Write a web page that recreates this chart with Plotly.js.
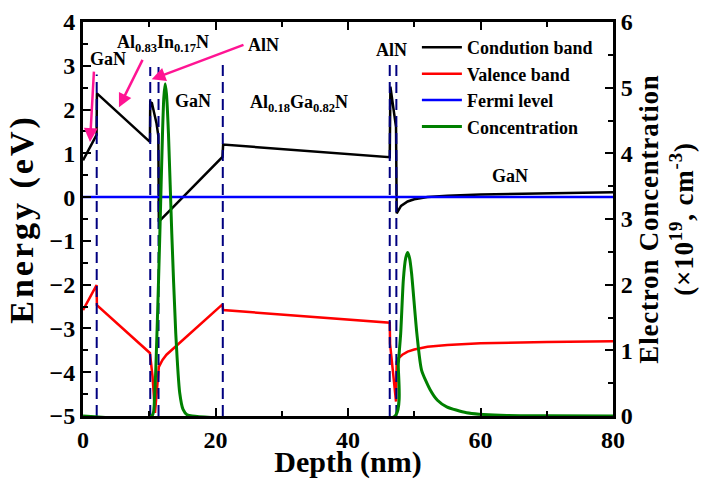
<!DOCTYPE html>
<html>
<head>
<meta charset="utf-8">
<script src="https://cdn.plot.ly/plotly-3.0.1.min.js"></script>
<style>
html,body{margin:0;padding:0;background:#fff;}
#chart{width:708px;height:479px;}
#chart .g-ytitle text{letter-spacing:3px;}
#chart .g-y2title text{letter-spacing:0.8px;}
</style>
</head>
<body>
<div id="chart"></div>
<script>
// Conduction band
const cbDepth  = [0, 2.05, 2.1, 10.1, 10.15, 10.4, 11.1, 11.37, 11.45, 21.05, 21.15, 46.3, 46.4, 47.25, 47.35, 48, 49, 50, 52, 55, 60, 70, 80];
const cbEnergy = [0.84, 1.42, 2.37, 1.26, 2.17, 2.15, 1.68, 1.40, -0.56, 0.92, 1.20, 0.91, 2.52, 1.60, -0.37, -0.20, -0.10, -0.05, 0.0, 0.03, 0.06, 0.09, 0.11];
// Valence band
const vbDepth  = [0, 2.05, 2.1, 10.1, 10.5, 10.87, 11.45, 12.0, 12.6, 21.05, 21.15, 46.3, 46.35, 47.25, 47.35, 47.6, 48.2, 49, 50, 52, 55, 60, 70, 80];
const vbEnergy = [-2.58, -2.01, -2.47, -3.56, -4.10, -4.93, -3.88, -3.72, -3.60, -2.45, -2.58, -2.87, -3.35, -4.67, -3.76, -3.68, -3.60, -3.53, -3.48, -3.42, -3.38, -3.34, -3.31, -3.29];
// Fermi level
const efDepth  = [0, 80];
const efEnergy = [0, 0];
// Electron concentration (x10^19 cm^-3)
const concDepth = [0, 10.4, 10.8, 11.0, 11.3, 11.6, 12.0, 12.2, 12.4, 12.6, 12.9, 13.4, 14.0, 14.6, 15.1, 15.7, 16.5,
                   47.1, 47.6, 47.95, 48.35, 48.7, 49.0, 49.3, 49.6, 50.4, 51.1, 52.4, 53.5, 54.9, 57.9, 63, 70, 80];
const conc      = [0, 0, 0.3, 0.75, 1.7, 2.78, 4.3, 4.85, 5.06, 4.9, 4.3, 2.78, 1.26, 0.35, 0.1, 0.02, 0,
                   0, 0.8, 1.25, 2.07, 2.4, 2.49, 2.4, 2.17, 1.25, 0.70, 0.40, 0.24, 0.14, 0.05, 0.01, 0.003, 0];
// Layer interfaces (dashed lines)
const interfaces   = [2.07, 10.15, 11.4, 21.1, 46.3, 47.3];
const interfaceTop = [2.8, 2.97, 2.97, 3.05, 3.05, 3.05];
const axisBottom = -5;

// Layer labels
const labelText = ['GaN', 'Al<sub>0.83</sub>In<sub>0.17</sub>N', 'AlN', 'GaN', 'Al<sub>0.18</sub>Ga<sub>0.82</sub>N', 'AlN', 'GaN'];
const labelX    = [3.7, 12.1, 27.3, 16.6, 32.6, 46.5, 64.5];
const labelY    = [3.15, 3.5, 3.47, 2.19, 2.14, 3.36, 0.48];
// Pointer arrows: tail -> head
const arrowTailX = [1.66, 9.1, 24.45];
const arrowTailY = [2.90, 3.17, 3.49];
const arrowHeadX = [1.06, 5.43, 10.37];
const arrowHeadY = [1.26, 2.05, 2.69];

const FONT = 'Liberation Serif, Times New Roman, serif';

const dashX = [], dashY = [];
interfaces.forEach((d, i) => { dashX.push(d, d, null); dashY.push(axisBottom, interfaceTop[i], null); });

const traces = [
  {x: cbDepth, y: cbEnergy, name: 'Condution band', mode: 'lines', line: {color: '#000000', width: 2.5}},
  {x: vbDepth, y: vbEnergy, name: 'Valence band', mode: 'lines', line: {color: '#ff0000', width: 2.5}},
  {x: efDepth, y: efEnergy, name: 'Fermi level', mode: 'lines', line: {color: '#0000ff', width: 2.5}},
  {x: concDepth, y: conc, name: 'Concentration', mode: 'lines', yaxis: 'y2',
   line: {color: '#008000', width: 3, shape: 'spline', smoothing: 0.6}},
  {x: dashX, y: dashY, mode: 'lines', showlegend: false, hoverinfo: 'skip',
   line: {color: '#000080', width: 2, dash: '11px,6px'}}
];

const annotations = [];
labelText.forEach((t, i) => annotations.push({
  x: labelX[i], y: labelY[i], xref: 'x', yref: 'y', text: t, showarrow: false,
  font: {family: FONT, size: 18, color: '#000', weight: 'bold'}
}));
arrowHeadX.forEach((hx, i) => annotations.push({
  x: hx, y: arrowHeadY[i], ax: arrowTailX[i], ay: arrowTailY[i], axref: 'x', ayref: 'y',
  xref: 'x', yref: 'y', text: '', showarrow: true, arrowhead: 2, arrowsize: 1.1, arrowwidth: 2.5,
  arrowcolor: '#ff1493', standoff: 0, startstandoff: 0
}));

const axisCommon = {
  showline: true, linecolor: '#000', linewidth: 3, ticks: 'inside', tickwidth: 2, ticklen: 8,
  tickcolor: '#000', showgrid: false, zeroline: false,
  tickfont: {family: FONT, size: 24, color: '#000', weight: 'bold'}
};

const layout = {
  width: 708, height: 479,
  margin: {l: 83, r: 95, t: 22, b: 63},
  paper_bgcolor: '#fff', plot_bgcolor: '#fff',
  font: {family: FONT, color: '#000', weight: 'bold'},
  showlegend: true,
  legend: {x: 0.63, y: 0.982, xanchor: 'left', yanchor: 'top', bgcolor: 'rgba(0,0,0,0)',
           font: {family: FONT, size: 18, color: '#000', weight: 'bold'}, tracegroupgap: 0, itemwidth: 40},
  xaxis: Object.assign({}, axisCommon, {
    range: [0, 80], dtick: 20, mirror: 'ticks',
    minor: {dtick: 10, ticks: 'inside', ticklen: 5, tickwidth: 2, tickcolor: '#000'},
    title: {text: 'Depth (nm)', standoff: 5, font: {family: FONT, size: 30, color: '#000', weight: 'bold'}}
  }),
  yaxis: Object.assign({}, axisCommon, {
    range: [-5, 4], dtick: 1, mirror: false,
    minor: {dtick: 0.5, ticks: 'inside', ticklen: 5, tickwidth: 2, tickcolor: '#000'},
    title: {text: 'Energy (eV)', standoff: 6, font: {family: FONT, size: 34, color: '#000', weight: 'bold'}}
  }),
  yaxis2: Object.assign({}, axisCommon, {
    range: [0, 6], dtick: 1, overlaying: 'y', side: 'right',
    minor: {dtick: 0.5, ticks: 'inside', ticklen: 5, tickwidth: 2, tickcolor: '#000'},
    title: {text: 'Electron Concentration<br>(×10<sup>19</sup>, cm<sup>-3</sup>)', standoff: 8,
            font: {family: FONT, size: 27, color: '#000', weight: 'bold'}}
  }),
  annotations: annotations
};

Plotly.newPlot('chart', traces, layout, {displayModeBar: false, staticPlot: true});
</script>
</body>
</html>
